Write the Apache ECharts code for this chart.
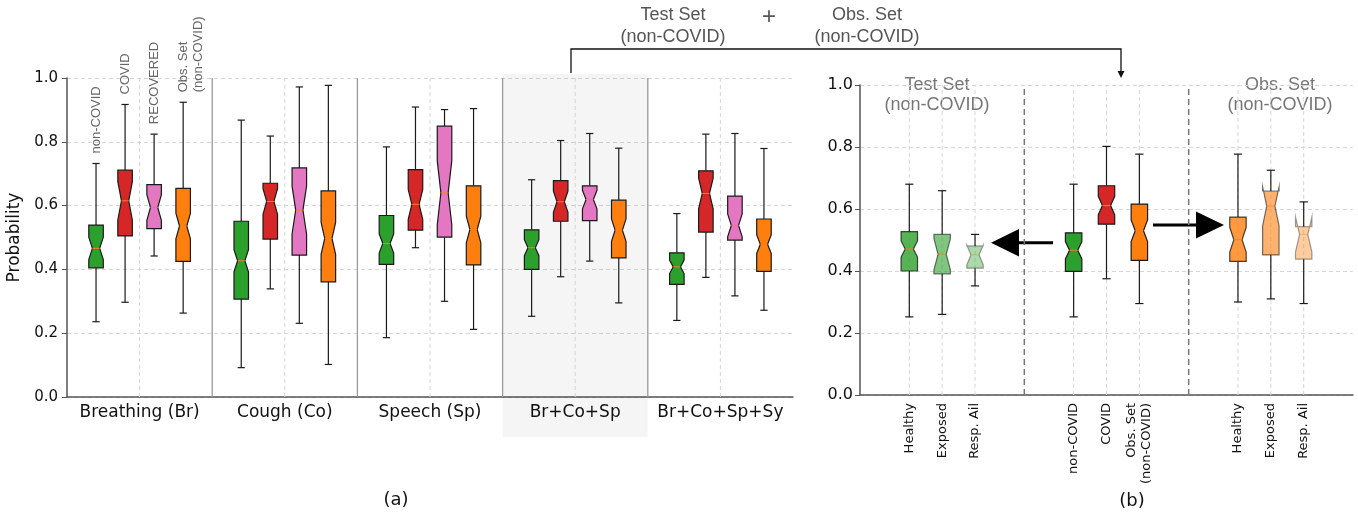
<!DOCTYPE html>
<html>
<head>
<meta charset="utf-8">
<script src="https://cdn.jsdelivr.net/npm/echarts@6/dist/echarts.min.js"></script>
<style>
  html, body { margin: 0; padding: 0; background: #fff; }
  #chart { width: 1358px; height: 514px; }
</style>
</head>
<body>
<div id="chart"></div>
<script>
// ---- panel (a) ----
const groups = ['Breathing (Br)', 'Cough (Co)', 'Speech (Sp)', 'Br+Co+Sp', 'Br+Co+Sp+Sy'];
const classNames = ['non-COVID', 'COVID', 'RECOVERED', 'Obs. Set\n(non-COVID)'];
const highlightGroup = 'Br+Co+Sp';
// each row: [lowWhisker, q1, median, q3, highWhisker, notchHalf]
const nonCovid = [
  [0.236, 0.405, 0.466, 0.539, 0.732, 0.035],
  [0.092, 0.307, 0.427, 0.551, 0.868, 0.035],
  [0.186, 0.416, 0.481, 0.569, 0.784, 0.030],
  [0.253, 0.400, 0.468, 0.524, 0.681, 0.025],
  [0.240, 0.353, 0.408, 0.452, 0.575, 0.021]
];
const covid = [
  [0.297, 0.505, 0.615, 0.711, 0.917, 0.060],
  [0.339, 0.495, 0.613, 0.670, 0.818, 0.040],
  [0.468, 0.523, 0.604, 0.713, 0.909, 0.047],
  [0.377, 0.551, 0.612, 0.678, 0.804, 0.033],
  [0.375, 0.517, 0.638, 0.709, 0.824, 0.048]
];
const recovered = [
  [0.442, 0.528, 0.594, 0.666, 0.824, 0.040],
  [0.231, 0.445, 0.586, 0.718, 0.972, 0.075],
  [0.300, 0.501, 0.640, 0.849, 0.901, 0.100],
  [0.426, 0.553, 0.619, 0.662, 0.826, 0.029],
  [0.317, 0.492, 0.538, 0.630, 0.826, 0.036]
];
const obsSet = [
  [0.263, 0.425, 0.536, 0.654, 0.924, 0.040],
  [0.102, 0.361, 0.497, 0.646, 0.977, 0.050],
  [0.212, 0.414, 0.525, 0.662, 0.904, 0.042],
  [0.295, 0.436, 0.523, 0.617, 0.780, 0.035],
  [0.272, 0.394, 0.479, 0.558, 0.779, 0.029]
];

// ---- panel (b) ----
const testSetNames = ['Healthy', 'Exposed', 'Resp. Ail'];
const testSetStats = [
  [0.252, 0.400, 0.471, 0.527, 0.680, 0.026],
  [0.260, 0.391, 0.454, 0.518, 0.659, 0.050],
  [0.352, 0.409, 0.452, 0.481, 0.518, 0.032]
];
const mainNames = ['non-COVID', 'COVID', 'Obs. Set\n(non-COVID)'];
const mainStats = [
  [0.252, 0.399, 0.467, 0.523, 0.680, 0.028],
  [0.375, 0.551, 0.611, 0.675, 0.802, 0.030],
  [0.295, 0.434, 0.530, 0.616, 0.777, 0.035]
];
const obsSetNames = ['Healthy', 'Exposed', 'Resp. Ail'];
const obsSetStats = [
  [0.300, 0.431, 0.501, 0.574, 0.777, 0.040],
  [0.310, 0.452, 0.609, 0.658, 0.725, 0.063],
  [0.295, 0.438, 0.518, 0.543, 0.623, 0.057]
];

const classColors = ['#2ca02c', '#d62728', '#e377c2', '#ff7f0e'];
const rightCats = ['', ...testSetNames, '', '', ...mainNames, '', '', ...obsSetNames, ''];
const starts = [1, 6, 11];
const rightSets = [
  { stats: testSetStats, start: starts[0], colors: ['#2ca02c', '#2ca02c', '#2ca02c'], alphas: [0.8, 0.6, 0.4] },
  { stats: mainStats, start: starts[1], colors: ['#2ca02c', '#d62728', '#ff7f0e'], alphas: [1, 1, 1] },
  { stats: obsSetStats, start: starts[2], colors: ['#ff7f0e', '#ff7f0e', '#ff7f0e'], alphas: [0.8, 0.6, 0.4] }
];

const EDGE = '#1a1a1a';

// notched box like matplotlib's bxp
function boxParts(api, xv, cx, w, s, color, alpha) {
  const py = v => api.coord([xv, v])[1];
  const [lo, q1, med, q3, hi, notch] = s;
  const L = cx - w / 2, R = cx + w / 2, nl = cx - w / 4, nr = cx + w / 4;
  const yq1 = py(q1), yq3 = py(q3), ym = py(med);
  const ynl = py(med - notch), ynh = py(med + notch);
  const line = (x1, y1, x2, y2, style) => ({ type: 'line', shape: { x1, y1, x2, y2 }, style });
  const ws = { stroke: EDGE, lineWidth: 1.2 };
  return [
    line(cx, yq3, cx, py(hi), ws),
    line(cx, yq1, cx, py(lo), ws),
    line(nl, py(hi), nr, py(hi), ws),
    line(nl, py(lo), nr, py(lo), ws),
    {
      type: 'polygon',
      shape: { points: [[L, yq1], [R, yq1], [R, ynl], [nr, ym], [R, ynh], [R, yq3], [L, yq3], [L, ynh], [nl, ym], [L, ynl]] },
      style: { fill: color, stroke: EDGE, lineWidth: 1.2, opacity: alpha }
    },
    line(nl, ym, nr, ym, { stroke: '#ff7f0e', lineWidth: 1, opacity: alpha })
  ];
}

const chart = echarts.init(document.getElementById('chart'));

const axisLineStyle = { color: '#555', width: 1.5 };
const yAxisBase = {
  type: 'value', min: 0, max: 1, interval: 0.2,
  axisLine: { show: true, lineStyle: axisLineStyle },
  axisTick: { show: true, length: 5, lineStyle: { color: '#555' } },
  axisLabel: { formatter: v => v.toFixed(1), fontFamily: 'DejaVu Sans', color: '#111' },
  splitLine: { show: true, lineStyle: { color: '#d6d6d6', type: [4, 3] } }
};

const series = [];

// frame for panel (a): centre grid lines, separators, highlight
series.push({
  type: 'custom', xAxisIndex: 0, yAxisIndex: 0, z: 1, silent: true,
  data: groups.map((n, g) => [g]),
  encode: { x: 0 },
  renderItem: (params, api) => {
    const g = api.value(0);
    const band = api.size([1, 0])[0];
    const cx = api.coord([g, 0])[0];
    const y0 = api.coord([g, 0])[1], y1 = api.coord([g, 1])[1];
    const children = [];
    if (groups[g] === highlightGroup) {
      children.push({ type: 'rect', shape: { x: cx - band / 2, y: y1 - 4, width: band, height: y0 - y1 + 44 },
        style: { fill: 'rgba(0,0,0,0.04)' } });
    }
    children.push({ type: 'line', shape: { x1: cx, y1: y0, x2: cx, y2: y1 },
      style: { stroke: '#d6d6d6', lineWidth: 1, lineDash: [4, 3] } });
    if (g > 0) {
      children.push({ type: 'line', shape: { x1: cx - band / 2, y1: y0, x2: cx - band / 2, y2: y1 },
        style: { stroke: '#9a9a9a', lineWidth: 1.3 } });
    }
    return { type: 'group', children };
  }
});

[nonCovid, covid, recovered, obsSet].forEach((arr, slot) => {
  series.push({
    type: 'custom', name: classNames[slot], xAxisIndex: 0, yAxisIndex: 0, z: 3,
    data: arr.map((s, g) => [g, ...s]),
    encode: { x: 0, y: [1, 2, 3, 4, 5] },
    renderItem: (params, api) => {
      const g = api.value(0);
      const band = api.size([1, 0])[0];
      const cx = api.coord([g, 0])[0] + (slot - 1.5) * 0.2 * band;
      const s = [1, 2, 3, 4, 5, 6].map(i => api.value(i));
      const children = boxParts(api, g, cx, band * 0.1, s, classColors[slot], 1);
      if (g === 0) {
        const multi = classNames[slot].indexOf('\n') >= 0;
        children.push({
          type: 'text', x: multi ? cx - 7 : cx, y: api.coord([g, s[4]])[1] - 10, rotation: Math.PI / 2,
          style: { text: classNames[slot], fill: '#666', font: '13px "Liberation Sans"',
            align: 'left', verticalAlign: multi ? 'top' : 'middle', lineHeight: 15 }
        });
      }
      return { type: 'group', children };
    }
  });
});

// panel (b) separators
series.push({
  type: 'custom', xAxisIndex: 1, yAxisIndex: 1, z: 1, silent: true,
  data: [[starts[0] + 2, starts[1]], [starts[1] + 2, starts[2]]],
  encode: { x: [0, 1] },
  renderItem: (params, api) => {
    const a = api.coord([api.value(0), 0]), b = api.coord([api.value(1), 1]);
    const x = (a[0] + b[0]) / 2;
    return { type: 'line', shape: { x1: x, y1: a[1], x2: x, y2: b[1] },
      style: { stroke: '#777', lineWidth: 1.5, lineDash: [6, 4] } };
  }
});

rightSets.forEach(set => {
  series.push({
    type: 'custom', xAxisIndex: 1, yAxisIndex: 1, z: 3,
    data: set.stats.map((s, k) => [set.start + k, k, ...s]),
    encode: { x: 0, y: [2, 3, 4, 5, 6] },
    renderItem: (params, api) => {
      const c = api.value(0), k = api.value(1);
      const band = api.size([1, 0])[0];
      const cx = api.coord([c, 0])[0];
      const s = [2, 3, 4, 5, 6, 7].map(i => api.value(i));
      const children = [{ type: 'line', shape: { x1: cx, y1: api.coord([c, 0])[1], x2: cx, y2: api.coord([c, 1])[1] },
        style: { stroke: '#d6d6d6', lineWidth: 1, lineDash: [4, 3] } }];
      return { type: 'group', children: children.concat(boxParts(api, c, cx, band * 0.5, s, set.colors[k], set.alphas[k])) };
    }
  });
});

const titleFont = '18px "Liberation Sans"';
const graphic = [
  { type: 'text', x: 673, y: 26, style: { text: 'Test Set\n(non-COVID)', font: titleFont, fill: '#555', align: 'center', verticalAlign: 'middle', lineHeight: 22 } },
  { type: 'text', x: 769, y: 17, style: { text: '+', font: '24px "Liberation Sans"', fill: '#555', align: 'center', verticalAlign: 'middle' } },
  { type: 'text', x: 867, y: 26, style: { text: 'Obs. Set\n(non-COVID)', font: titleFont, fill: '#555', align: 'center', verticalAlign: 'middle', lineHeight: 22 } },
  { type: 'polyline', shape: { points: [[571, 73], [571, 49], [1121, 49], [1121, 72]] }, style: { stroke: '#111', lineWidth: 1.3, fill: null } },
  { type: 'polygon', shape: { points: [[1117.5, 71], [1124.5, 71], [1121, 78]] }, style: { fill: '#111' } },
  { type: 'text', x: 937, y: 95, style: { text: 'Test Set\n(non-COVID)', font: titleFont, fill: '#777', align: 'center', verticalAlign: 'middle', lineHeight: 20 } },
  { type: 'text', x: 1280, y: 95, style: { text: 'Obs. Set\n(non-COVID)', font: titleFont, fill: '#777', align: 'center', verticalAlign: 'middle', lineHeight: 20 } },
  { type: 'line', shape: { x1: 1017, y1: 242.7, x2: 1053, y2: 242.7 }, style: { stroke: '#000', lineWidth: 3 } },
  { type: 'polygon', shape: { points: [[991, 242.7], [1019, 229], [1019, 256.5]] }, style: { fill: '#000' } },
  { type: 'line', shape: { x1: 1153, y1: 225, x2: 1198, y2: 225 }, style: { stroke: '#000', lineWidth: 3 } },
  { type: 'polygon', shape: { points: [[1224, 225], [1196, 211.5], [1196, 238.5]] }, style: { fill: '#000' } },
  { type: 'text', x: 396, y: 500, style: { text: '(a)', font: '18px "DejaVu Sans"', fill: '#111', align: 'center', verticalAlign: 'middle' } },
  { type: 'text', x: 1132, y: 501, style: { text: '(b)', font: '18px "DejaVu Sans"', fill: '#111', align: 'center', verticalAlign: 'middle' } }
];

chart.setOption({
  animation: false,
  backgroundColor: '#fff',
  grid: [
    { left: 67, top: 78, right: 565, bottom: 117, outerBoundsMode: 'none' },
    { left: 860, top: 85, right: 5, bottom: 119, outerBoundsMode: 'none' }
  ],
  xAxis: [
    {
      type: 'category', gridIndex: 0, data: groups, boundaryGap: true,
      axisLine: { lineStyle: axisLineStyle },
      axisTick: { alignWithLabel: true, length: 4, lineStyle: { color: '#555' } },
      axisLabel: { interval: 0, fontFamily: 'DejaVu Sans', fontSize: 17, color: '#111', margin: 7 },
      splitLine: { show: false }
    },
    {
      type: 'category', gridIndex: 1, data: rightCats, boundaryGap: true,
      axisLine: { lineStyle: axisLineStyle },
      axisTick: { alignWithLabel: true, length: 4, interval: (i, v) => v !== '', lineStyle: { color: '#555' } },
      axisLabel: { interval: 0, rotate: 90, fontFamily: 'DejaVu Sans', fontSize: 13, color: '#111', margin: 8, lineHeight: 15 },
      splitLine: { show: false }
    }
  ],
  yAxis: [
    Object.assign({}, yAxisBase, {
      gridIndex: 0,
      axisLabel: Object.assign({}, yAxisBase.axisLabel, { fontSize: 15, margin: 9 }),
      name: 'Probability', nameLocation: 'middle', nameGap: 40,
      nameTextStyle: { fontFamily: 'DejaVu Sans', fontSize: 17, color: '#111' }
    }),
    Object.assign({}, yAxisBase, {
      gridIndex: 1,
      axisLabel: Object.assign({}, yAxisBase.axisLabel, { fontSize: 16, margin: 7 })
    })
  ],
  series: series,
  graphic: graphic
});
</script>
</body>
</html>
